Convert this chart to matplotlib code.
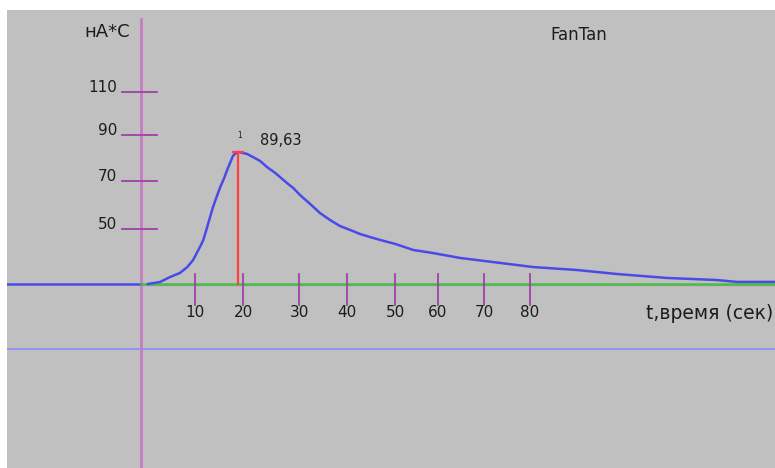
import matplotlib
matplotlib.use("Agg")
import matplotlib.pyplot as plt
import numpy as np

plt.rcParams['font.family'] = ['DejaVu Sans']

# ---- data ----
t_sec = [1.4, 3.9, 6.0, 8.0, 9.5, 10.7, 12.1, 12.8, 13.6, 14.2, 14.8, 15.6, 16.3,
         17.1, 17.7, 18.3, 18.9, 19.3, 19.9, 21.0, 21.8, 23.0, 24.5, 25.9, 27.6,
         30.0, 31.3, 32.7, 34.8, 36.8, 38.9, 40.9, 43.0, 45.1, 47.1, 49.2, 52.3,
         56.0, 60.1, 65.6, 73.9, 80.7, 89.7, 97.9, 108.2, 118.5, 122.6, 130.5]
charge = [0.0, 1.4, 4.8, 7.5, 11.5, 16.3, 25.1, 29.9, 38.7, 45.5, 52.3, 59.7, 65.9,
          72.0, 77.4, 82.1, 87.0, 88.3, 89.63, 88.9, 88.3, 86.2, 83.5, 79.4, 75.4,
          68.6, 65.2, 60.4, 54.3, 48.2, 43.4, 39.4, 36.7, 33.9, 31.9, 29.9, 27.2,
          23.1, 21.0, 17.7, 14.3, 11.5, 9.5, 6.8, 4.1, 2.7, 1.4, 1.4]
peak_t = 19.9
peak_v = 89.63
peak_label = "89,63"
peak_index = "1"

x_tick_labels = ["10", "20", "30", "40", "50", "60", "70", "80"]
x_tick_pos = [11.1, 21.0, 32.5, 42.4, 52.3, 61.1, 70.6, 80.0]
y_tick_labels = ["110", "90", "70", "50"]
y_tick_pos = [130.3, 101.2, 69.9, 37.3]

y_unit = "нА*С"
x_unit = "t,время (сек)"
title = "FanTan"

# ---- figure ----
W, H = 775, 468
fig = plt.figure(figsize=(W / 100, H / 100), dpi=100, facecolor="white")
ax = fig.add_axes([7 / W, 0, (W - 7) / W, (H - 10) / H])
ax.set_facecolor("#c0c0c0")
ax.set_xlim(-27.6, 130.45)
ax.set_ylim(-124.9, 186.0)
for s in ax.spines.values():
    s.set_visible(False)
ax.set_xticks([])
ax.set_yticks([])

purple = "#c57cc5"
tickc = "#a040a8"
blue = "#4a4ae6"
txt = "#1c1c1c"

# lower light-blue line
ax.axhline(-44.1, color="#8c8cff", lw=1.2, zorder=1)
# vertical axis
ax.plot([0, 0], [-124.9, 180], color=purple, lw=2.0, zorder=2)
# x-axis faint line
ax.plot([0, 130.45], [-0.6, -0.6], color="#c88cc8", lw=1.0, zorder=2)
# baseline left of axis (blue), right of axis (green)
ax.plot([-27.6, 0], [0, 0], color=blue, lw=1.8, zorder=3)
ax.plot([0, 130.45], [0, 0], color="#44c044", lw=1.8, zorder=3)

# y ticks
for p, lab in zip(y_tick_pos, y_tick_labels):
    ax.plot([-3.9, 3.3], [p, p], color=tickc, lw=1.3, zorder=3)
    ax.annotate(lab, (-4.9, p), xytext=(0, 3), textcoords="offset points",
                ha="right", va="center", fontsize=11, color=txt)

# x ticks
for p, lab in zip(x_tick_pos, x_tick_labels):
    ax.plot([p, p], [-14.3, 6.8], color=tickc, lw=1.3, zorder=3)
    ax.text(p, -19.5, lab, ha="center", va="center", fontsize=11, color=txt, zorder=4)

# curve
ax.plot(t_sec, charge, color=blue, lw=1.8, zorder=5)

# peak marker
ax.plot([peak_t, peak_t], [0, peak_v], color="#ff4040", lw=1.6, zorder=6)
ax.plot([peak_t - 1.0, peak_t + 1.0], [peak_v, peak_v], color="#ff4040", lw=1.6, zorder=6)
ax.annotate(peak_label, (peak_t, peak_v), xytext=(16, 8), textcoords="offset points",
            ha="left", va="center", fontsize=10.5, color=txt)
ax.annotate(peak_index, (peak_t, peak_v), xytext=(1.5, 12), textcoords="offset points",
            ha="center", va="center", fontsize=5.5, color=txt)

# unit labels and title
ax.text(-7.0, 171, y_unit, ha="center", va="center", fontsize=13, color=txt)
ax.text(130.0, -19.7, x_unit, ha="right", va="center", fontsize=13.5, color=txt)
ax.text(84.2, 169, title, ha="left", va="center", fontsize=12, color=txt)

fig.savefig("out.png", dpi=100, facecolor="white")
